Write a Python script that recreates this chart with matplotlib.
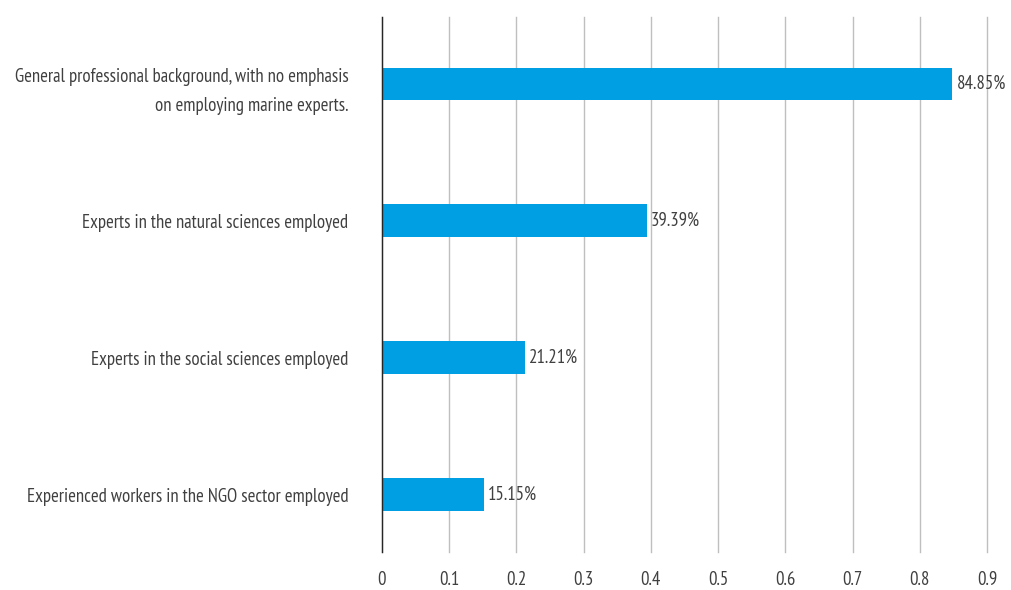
import matplotlib.pyplot as plt

# Survey shares by staffing profile
categories = [
    "General professional background, with no emphasis\non employing marine experts.",
    "Experts in the natural sciences employed",
    "Experts in the social sciences employed",
    "Experienced workers in the NGO sector employed",
]
shares = [0.8485, 0.3939, 0.2121, 0.1515]
value_labels = ["84.85%", "39.39%", "21.21%", "15.15%"]
xticks = [0, 0.1, 0.2, 0.3, 0.4, 0.5, 0.6, 0.7, 0.8, 0.9]
xtick_labels = ["0", "0.1", "0.2", "0.3", "0.4", "0.5", "0.6", "0.7", "0.8", "0.9"]

plt.rcParams["font.family"] = ["PT Sans Narrow", "DejaVu Sans"]

text_color = "#404040"
bar_color = "#009FE3"
fs = 13.5

fig = plt.figure(figsize=(10.11, 5.9), dpi=100)
ax = fig.add_axes([0.3778, 0.0644, 0.5985, 0.9068])

ypos = list(range(len(categories)))
ax.barh(ypos, shares, height=0.24, color=bar_color, zorder=3)

for y, v, lab in zip(ypos, shares, value_labels):
    ax.text(v + 0.006, y, lab, va="center", ha="left", fontsize=fs,
            color=text_color, zorder=4)

ax.set_ylim(3.42, -0.49)
ax.set_xlim(0, 0.9)
ax.set_yticks(ypos)
ax.set_yticklabels(categories, fontsize=fs, color=text_color,
                   multialignment="right", linespacing=1.8)
ax.set_xticks(xticks)
ax.set_xticklabels(xtick_labels, fontsize=fs, color=text_color)
ax.tick_params(axis="y", length=0, pad=24)
ax.tick_params(axis="x", length=0, pad=14)

ax.grid(axis="x", color="#BFBFBF", linewidth=1, zorder=0)
for gl in ax.get_xgridlines():
    gl.set_clip_on(False)
for side in ("top", "right", "bottom"):
    ax.spines[side].set_visible(False)
ax.spines["left"].set_color("#262626")
ax.spines["left"].set_linewidth(1)
ax.spines["left"].set_zorder(5)

fig.savefig("out.png", dpi=100)
